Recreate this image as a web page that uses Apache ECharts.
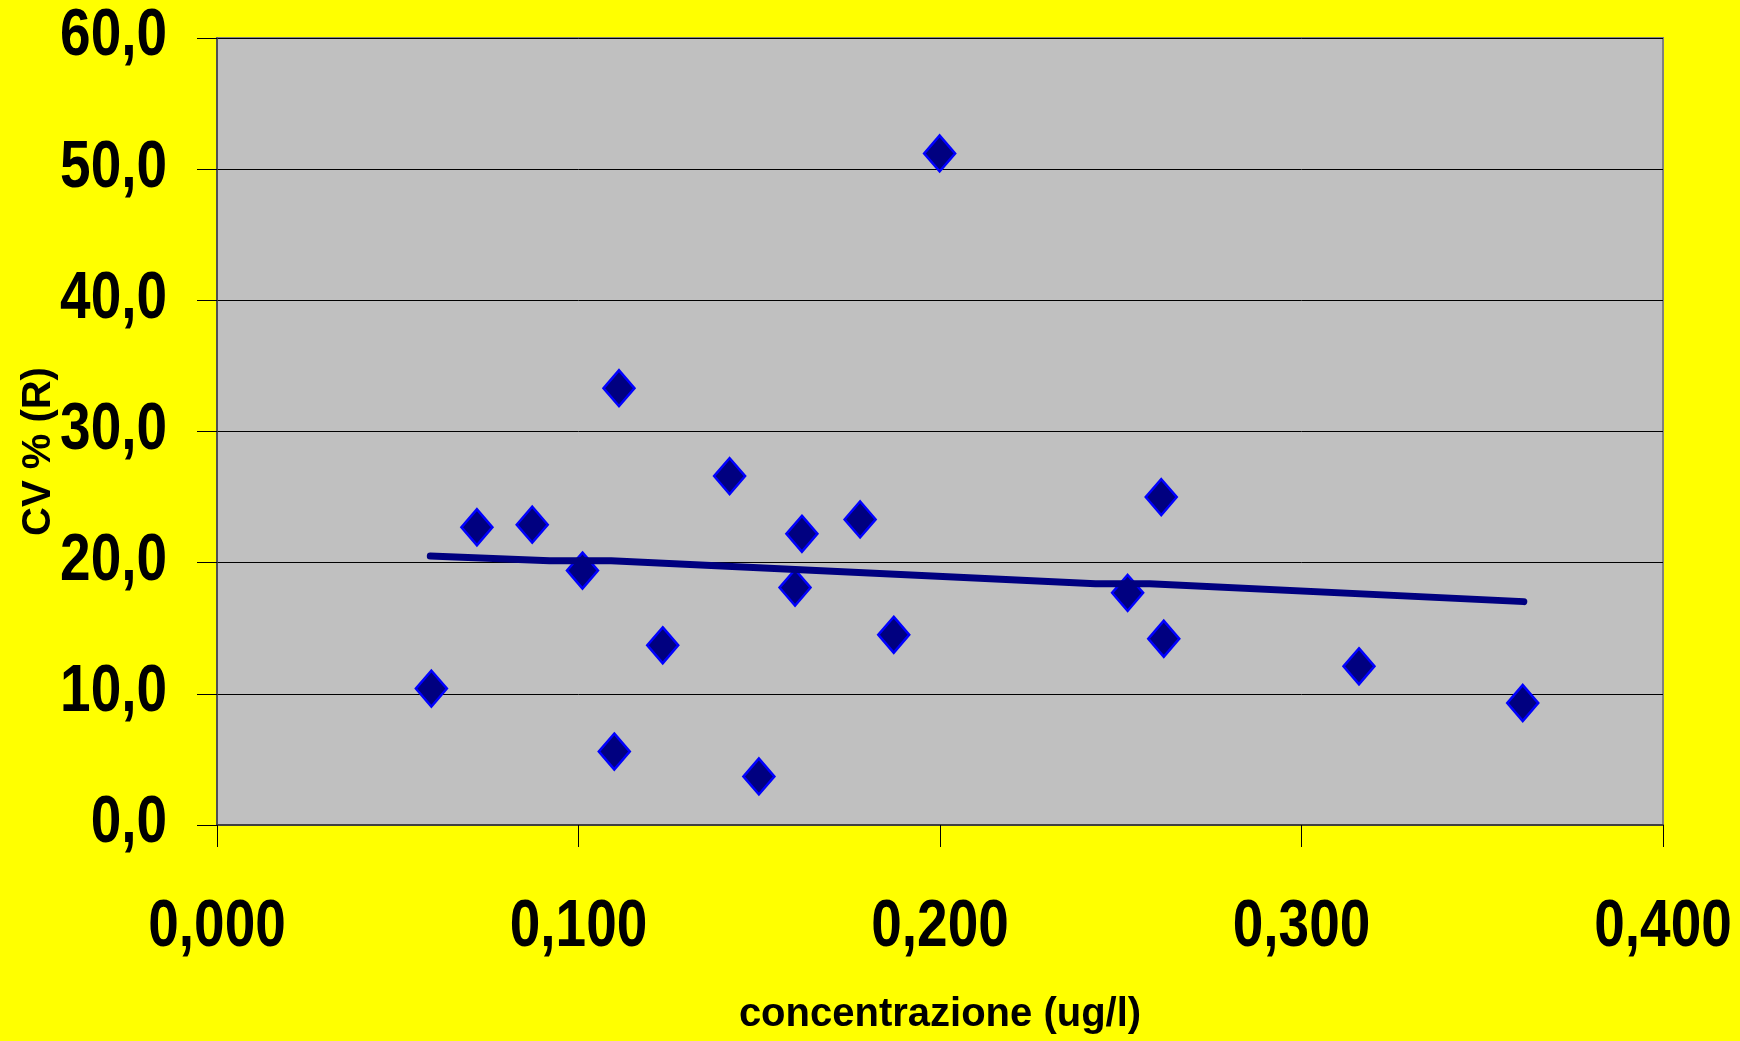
<!DOCTYPE html>
<html>
<head>
<meta charset="utf-8">
<script src="https://cdn.jsdelivr.net/npm/echarts@6/dist/echarts.min.js"></script>
<style>
  html, body { margin: 0; padding: 0; background: #FFFF00; }
  #chart { width: 1740px; height: 1041px; }
</style>
</head>
<body>
<div id="chart"></div>
<script>
// Measured concentrations (ug/l) and reproducibility CV % (R)
const concentrations = [0.0593, 0.0719, 0.0872, 0.1011, 0.1099, 0.1112, 0.1233, 0.1418, 0.1499, 0.1599,
                        0.1618, 0.1779, 0.1872, 0.1999, 0.2519, 0.2612, 0.2619, 0.3159, 0.3612];
const cvValues       = [10.4, 22.7, 22.9, 19.4, 5.6, 33.3, 13.7, 26.6, 3.7, 18.1,
                        22.2, 23.3, 14.5, 51.2, 17.7, 25.0, 14.2, 12.1, 9.3];

// Trend line vertices
const trendX = [0.059, 0.092, 0.109, 0.243, 0.258, 0.3615];
const trendY = [20.5, 20.15, 20.15, 18.4, 18.4, 17.03];

// Axis ticks and their labels (Italian decimal comma)
const xTickValues = [0, 0.1, 0.2, 0.3, 0.4];
const xTickLabels = ['0,000', '0,100', '0,200', '0,300', '0,400'];
const yTickValues = [0, 10, 20, 30, 40, 50, 60];
const yTickLabels = ['0,0', '10,0', '20,0', '30,0', '40,0', '50,0', '60,0'];

const xTitle = 'concentrazione (ug/l)';
const yTitle = 'CV % (R)';

const fontFamily = "'Liberation Sans', Arial, sans-serif";

const points = concentrations.map((x, i) => [x, cvValues[i]]);
const trend = trendX.map((x, i) => [x, trendY[i]]);

const chart = echarts.init(document.getElementById('chart'), null, { renderer: 'canvas' });

chart.setOption({
  backgroundColor: '#FFFF00',
  animation: false,
  grid: {
    left: 217, right: 77, top: 38, bottom: 216,
    outerBoundsMode: 'none',
    containLabel: false,
    show: true,
    backgroundColor: '#C0C0C0',
    borderColor: '#808080',
    borderWidth: 2
  },
  xAxis: {
    type: 'value',
    min: 0, max: 0.4, interval: 0.1,
    name: xTitle,
    nameLocation: 'middle',
    nameGap: 170,
    nameTextStyle: { fontFamily, fontWeight: 'bold', fontSize: 40, color: '#000' },
    axisLine: { show: true, lineStyle: { color: '#404040', width: 2 } },
    axisTick: { show: true, inside: false, length: 22, lineStyle: { color: '#000', width: 1 } },
    axisLabel: { show: false },
    splitLine: { show: false }
  },
  yAxis: {
    type: 'value',
    min: 0, max: 60, interval: 10,
    name: yTitle,
    nameLocation: 'middle',
    nameGap: 158,
    nameRotate: 90,
    nameTextStyle: { fontFamily, fontWeight: 'bold', fontSize: 40, color: '#000', padding: [0, 40, 0, 0] },
    axisLine: { show: true, lineStyle: { color: '#404040', width: 1.5 } },
    axisTick: { show: true, inside: false, length: 20, lineStyle: { color: '#000', width: 1 } },
    axisLabel: { show: false },
    splitLine: { show: true, lineStyle: { color: '#000', width: 1 } }
  },
  series: [
    {
      type: 'scatter',
      data: points,
      symbol: 'diamond',
      symbolSize: [31, 36],
      itemStyle: { color: '#000080', borderColor: '#0000FF', borderWidth: 2.5, opacity: 1 },
      z: 2
    },
    {
      type: 'line',
      data: trend,
      symbol: 'none',
      lineStyle: { color: '#000080', width: 7, cap: 'round', join: 'round' },
      z: 3
    }
  ]
});

// Tick labels in a condensed bold face: placed at the axis ticks through the
// grid's own coordinate conversion, then narrowed horizontally.
function tickText(text, x, y, align) {
  return {
    type: 'text',
    x, y,
    scaleX: 0.82,
    z: 10,
    style: {
      text,
      x: 0, y: 0,
      align,
      verticalAlign: 'middle',
      fontFamily,
      fontWeight: 'bold',
      fontSize: 67,
      fill: '#000'
    }
  };
}

const labels = [];
xTickValues.forEach((v, i) => {
  const p = chart.convertToPixel({ gridIndex: 0 }, [v, 0]);
  labels.push(tickText(xTickLabels[i], p[0], p[1] + 103, 'center'));
});
yTickValues.forEach((v, i) => {
  const p = chart.convertToPixel({ gridIndex: 0 }, [0, v]);
  labels.push(tickText(yTickLabels[i], p[0] - 50, p[1] - 1, 'right'));
});
chart.setOption({ graphic: labels });
</script>
</body>
</html>
